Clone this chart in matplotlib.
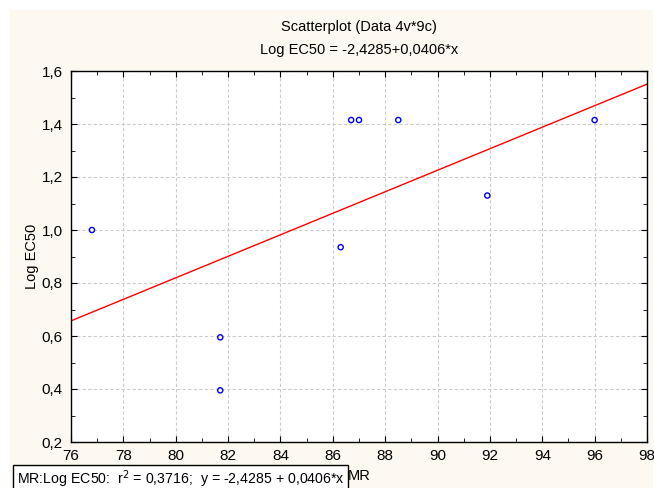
import numpy as np
import matplotlib.pyplot as plt
from matplotlib.ticker import FuncFormatter, MultipleLocator

plt.rcParams['font.family'] = ['Liberation Sans', 'DejaVu Sans']

# data
mr = [76.8, 81.7, 81.7, 86.3, 86.7, 87.0, 88.5, 91.9, 96.0]
log_ec50 = [1.0, 0.595, 0.395, 0.935, 1.415, 1.415, 1.415, 1.13, 1.415]
b0, b1 = -2.4285, 0.0406
r2 = 0.3716

bg = '#fdf9f0'
fig = plt.figure(figsize=(6.54, 4.88), dpi=100)
fig.patch.set_facecolor('white')
# cream panel behind everything
fig.patches.append(plt.Rectangle((10/654, 0), 643/654, 1 - 10/488, transform=fig.transFigure,
                                 facecolor=bg, edgecolor='none', zorder=-10))

ax = fig.add_axes([71/654, 1 - 442/488, 576/654, 371/488])
ax.set_facecolor('white')

ax.scatter(mr, log_ec50, s=14, facecolors='none', edgecolors='blue', linewidths=1, zorder=3)
xx = np.array([76, 98])
ax.plot(xx, b0 + b1 * xx, color='red', lw=1, zorder=2)

ax.set_xlim(76, 98)
ax.set_ylim(0.2, 1.6)
ax.xaxis.set_major_locator(MultipleLocator(2))
ax.xaxis.set_minor_locator(MultipleLocator(1))
ax.yaxis.set_major_locator(MultipleLocator(0.2))
ax.yaxis.set_minor_locator(MultipleLocator(0.1))
ax.yaxis.set_major_formatter(FuncFormatter(lambda v, p: f'{v:.1f}'.replace('.', ',')))
ax.tick_params(which='both', direction='in', top=True, right=True, labelsize=11)
ax.tick_params(axis='x', pad=5)
ax.tick_params(axis='y', pad=6)
ax.tick_params(which='major', length=4)
ax.tick_params(which='minor', length=3)
ax.grid(True, which='major', ls=(0, (3, 2)), color='#cccccc', lw=0.8)
for s in ax.spines.values():
    s.set_linewidth(1)

ax.set_ylabel('Log EC50', fontsize=10.5, labelpad=2)
ax.set_xlabel('MR', fontsize=10.5, labelpad=4)

fig.text(359/654, 1 - 27/488, 'Scatterplot (Data 4v*9c)', ha='center', va='center', fontsize=10.5)
fig.text(359/654, 1 - 50/488, 'Log EC50 = -2,4285+0,0406*x', ha='center', va='center', fontsize=10.5)

fig.text(17/654, 1 - 479/488,
         'MR:Log EC50:  r$^2$ = 0,3716;  y = -2,4285 + 0,0406*x',
         ha='left', va='center', fontsize=10.2,
         bbox=dict(boxstyle='square,pad=0.25', facecolor='white', edgecolor='black', lw=1))

fig.savefig('out.png', dpi=100, facecolor=fig.get_facecolor())
